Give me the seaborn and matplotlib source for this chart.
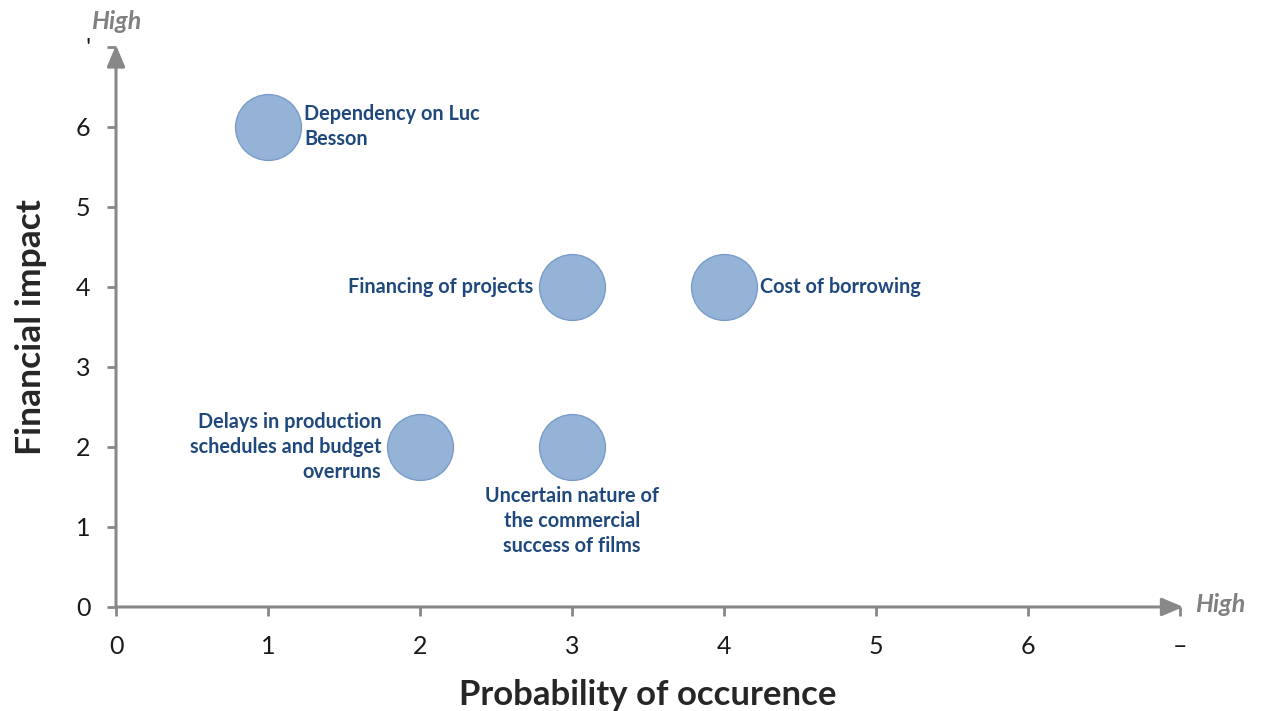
import matplotlib
matplotlib.use("Agg")
import matplotlib.pyplot as plt
import pandas as pd
import seaborn as sns

# risk map: probability (x) vs financial impact (y)
RISKS = [
    "Dependency on Luc\nBesson",
    "Financing of projects",
    "Cost of borrowing",
    "Delays in production\nschedules and budget\noverruns",
    "Uncertain nature of\nthe commercial\nsuccess of films",
]
PROBABILITY = [1, 3, 4, 2, 3]
IMPACT = [6, 4, 4, 2, 2]
# where each label sits relative to its bubble
LABEL_SIDE = ["right", "left", "right", "left", "below"]

X_TICKS = [0, 1, 2, 3, 4, 5, 6, 7]
X_TICK_LABELS = ["0", "1", "2", "3", "4", "5", "6", "\u2013"]
Y_TICKS = [0, 1, 2, 3, 4, 5, 6, 7]
Y_TICK_LABELS = ["0", "1", "2", "3", "4", "5", "6", "'"]

AXIS_GREY = "#888888"
BUBBLE = "#95B3D7"
BUBBLE_EDGE = "#7A9CCB"
TEXT_BLUE = "#1F497D"

sns.set_style("white")
plt.rcParams["font.family"] = ["Lato", "DejaVu Sans"]

df = pd.DataFrame({"risk": RISKS, "prob": PROBABILITY, "impact": IMPACT, "side": LABEL_SIDE})

fig = plt.figure(figsize=(12.61, 7.11), dpi=100)
ax = fig.add_axes([0.092, 0.1463, 0.844, 0.788])

sns.scatterplot(data=df, x="prob", y="impact", s=2250, color=BUBBLE,
                edgecolor=BUBBLE_EDGE, linewidth=1.0, ax=ax, zorder=3, legend=False)

ax.set_xlim(0, 7)
ax.set_ylim(0, 7)

for _, row in df.iterrows():
    if row.side == "right":
        off, ha, va = (26, 0), "left", "center"
    elif row.side == "left":
        off, ha, va = (-28, 0), "right", "center"
    else:
        off, ha, va = (0, -28), "center", "top"
    ax.annotate(row.risk, (row.prob, row.impact), xytext=off, textcoords="offset points",
                ha=ha, va=va, multialignment=ha if ha != "center" else "center",
                fontsize=14.3, fontweight="bold", color=TEXT_BLUE, linespacing=1.33)

# axes drawn as grey arrows
for s in ax.spines.values():
    s.set_visible(False)
for tip in [(7.02, 0), (0, 7.02)]:
    ax.annotate("", xy=tip, xytext=(0, 0), xycoords="data",
                arrowprops=dict(arrowstyle="-|>,head_length=1.3,head_width=0.55",
                                color=AXIS_GREY, lw=2.2, shrinkA=0, shrinkB=0),
                annotation_clip=False)

ax.set_xticks(X_TICKS)
ax.set_xticklabels(X_TICK_LABELS)
ax.set_yticks(Y_TICKS)
ax.set_yticklabels(Y_TICK_LABELS)
ax.tick_params(axis="both", which="both", direction="out", length=6.5, width=2,
               color=AXIS_GREY, labelsize=18, labelcolor="#1a1a1a", pad=12)
ax.tick_params(axis="x", pad=14)
ax.tick_params(left=True, bottom=True)

ax.text(0, 7.31, "High", ha="center", va="center", fontsize=18, fontweight="bold",
        style="italic", color="#808080", clip_on=False)
ax.text(7.1, 0.03, "High", ha="left", va="center", fontsize=18, fontweight="bold",
        style="italic", color="#808080", clip_on=False)

ax.set_xlabel("Probability of occurence", fontsize=25, fontweight="bold", labelpad=15)
ax.set_ylabel("Financial impact", fontsize=25.5, fontweight="bold", labelpad=21)

fig.savefig("out.png", dpi=100)
